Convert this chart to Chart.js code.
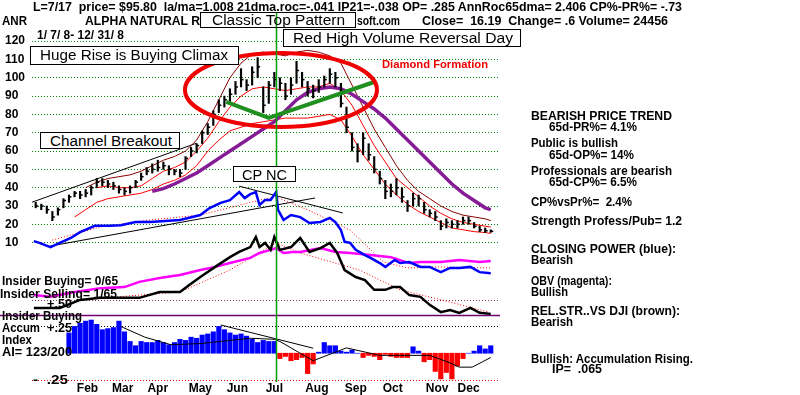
<!DOCTYPE html>
<html>
<head>
<meta charset="utf-8">
<script src="https://cdn.jsdelivr.net/npm/chart.js@4.4.0/dist/chart.umd.min.js"></script>
<style>
  body { margin: 0; background: #fff; }
  #wrap { position: relative; width: 800px; height: 395px; overflow: hidden; font-family: "Liberation Sans", Arial, sans-serif; }
  canvas { position: absolute; left: 0; top: 0; }
  .t { position: absolute; white-space: nowrap; font-weight: bold; font-size: 12px; line-height: 12px; color: #000; transform-origin: 0 0; }
  .n { font-weight: normal; font-size: 14px; line-height: 14px; }
  .box { position: absolute; border: 1px solid #000; background: #fff; box-sizing: border-box; }
</style>
</head>
<body>
<div id="wrap">
  <canvas id="chart" width="800" height="395"></canvas>

  <div class="t" style="left:33px;top:1px" data-w="649">L=7/17&nbsp; price= $95.80&nbsp; la/ma=1.008 21dma.roc=-.041 IP21=-.038 OP= .285 AnnRoc65dma= 2.406 CP%-PR%= -.73</div>
  <div class="t" style="left:2px;top:15px" data-w="25">ANR</div>
  <div class="t" style="left:85px;top:15px" data-w="115">ALPHA NATURAL R</div>
  <div class="t" style="left:357px;top:15px" data-w="43">soft.com</div>
  <div class="t" style="left:422px;top:15px" data-w="246">Close=&nbsp; 16.19&nbsp; Change= .6 Volume= 24456</div>
  <div class="t" style="left:37px;top:29px" data-w="87">1/ 7/ 8- 12/ 31/ 8</div>

  <div class="box" style="left:200px;top:12px;width:156px;height:16px;background:transparent"></div>
  <div class="t n" style="left:212px;top:13px" data-w="133">Classic Top Pattern</div>
  <div class="box" style="left:283px;top:29px;width:238px;height:18px"></div>
  <div class="t n" style="left:293px;top:31px" data-w="220">Red High Volume Reversal Day</div>
  <div class="box" style="left:30px;top:46px;width:209px;height:19px"></div>
  <div class="t n" style="left:40px;top:48px" data-w="188">Huge Rise is Buying Climax</div>
  <div class="box" style="left:40px;top:132px;width:140px;height:17px"></div>
  <div class="t n" style="left:50px;top:134px" data-w="122">Channel Breakout</div>
  <div class="box" style="left:233px;top:166px;width:63px;height:16px"></div>
  <div class="t n" style="left:242px;top:168px" data-w="45">CP NC</div>
  <div class="t" style="left:382px;top:59px;color:#f00000;font-size:11px;line-height:11px" data-w="106">Diamond Formation</div>

  <div class="t" style="left:531px;top:110px" data-w="141">BEARISH PRICE TREND</div>
  <div class="t" style="left:549px;top:121px" data-w="88">65d-PR%= 4.1%</div>
  <div class="t" style="left:531px;top:137px" data-w="87">Public is bullish</div>
  <div class="t" style="left:549px;top:149px" data-w="85">65d-OP%= 14%</div>
  <div class="t" style="left:531px;top:165px" data-w="141">Professionals are bearish</div>
  <div class="t" style="left:549px;top:176px" data-w="88">65d-CP%= 6.5%</div>
  <div class="t" style="left:531px;top:196px" data-w="101">CP%vsPr%=&nbsp; 2.4%</div>
  <div class="t" style="left:531px;top:215px" data-w="151">Strength Profess/Pub= 1.2</div>
  <div class="t" style="left:531px;top:243px" data-w="145">CLOSING POWER (blue):</div>
  <div class="t" style="left:531px;top:254px" data-w="42">Bearish</div>
  <div class="t" style="left:531px;top:275px" data-w="81">OBV (magenta):</div>
  <div class="t" style="left:531px;top:286px" data-w="37">Bullish</div>
  <div class="t" style="left:531px;top:305px" data-w="149">REL.STR..VS DJI (brown):</div>
  <div class="t" style="left:531px;top:316px" data-w="42">Bearish</div>
  <div class="t" style="left:531px;top:353px" data-w="162">Bullish: Accumulation Rising.</div>
  <div class="t" style="left:552px;top:363px" data-w="50">IP=&nbsp; .065</div>

  <div class="t" style="left:47px;top:298px" data-w="25">+.50</div>
  <div class="t" style="left:2px;top:275px" data-w="116">Insider Buying= 0/65</div>
  <div class="t" style="left:0px;top:288px" data-w="117">Insider Selling= 1/65</div>
  <div class="t" style="left:2px;top:310px" data-w="80">Insider Buying</div>
  <div class="t" style="left:2px;top:322px" data-w="38">Accum</div>
  <div class="t" style="left:47px;top:322px" data-w="25">+.25</div>
  <div class="t" style="left:2px;top:334px" data-w="30">Index</div>
  <div class="t" style="left:2px;top:346px" data-w="70">AI= 123/200</div>
  <div class="t" style="left:33px;top:374px" data-w="35">-&nbsp; .25</div>
</div>

<script>
// x is the trading-day index counted from 1/7/08
const monthDays = [31, 50, 69, 92, 112, 132, 155, 176, 196, 220, 237];
const monthLabels = ['Feb', 'Mar', 'Apr', 'May', 'Jun', 'Jul', 'Aug', 'Sep', 'Oct', 'Nov', 'Dec'];
const priceTicks = [10, 20, 30, 40, 50, 60, 70, 80, 90, 100, 110, 120];
const markDay = 133; // L=7/17

const priceDays = [3,6,9,12,15,18,21,24,27,30,33,36,39,42,45,48,51,54,57,60,63,66,69,72,75,78,81,84,87,90,
  93,96,99,102,105,108,111,114,117,120,123,126,129,132,135,138,141,144,147,150,153,156,159,162,165,168,171,174,177,180,
  183,186,189,192,195,198,201,204,207,210,213,216,219,222,225,228,231,234,237,240,243,246,249];
const priceHigh = [32,31,30,27,29,34,36,38,38,39, 41,45,45,44,43,41,40,41,44,48,
  51,53,55,54,52,50,50,57,62,64, 71,75,82,88,90,94,98,105,99,106,
  111,95,98,103,100,97,100,109,103,98, 96,99,101,105,103,97,84,70,64,70,
  64,57,49,44,42,45,40,33,37,36, 32,28,27,22,23,22,22,24,24,21, 19,18,17];
const priceLow = [29,28,26,22,25,29,32,35,34,35, 36,40,41,40,39,37,36,37,40,44,
  47,48,49,50,47,47,46,50,57,59, 64,69,74,81,84,87,91,95,93,96,
  100,81,86,95,93,88,91,97,95,90, 89,92,95,97,95,84,70,60,54,58,
  55,48,42,34,35,36,32,27,30,30, 26,24,22,17,18,18,18,20,20,18, 16,15.5,15.6];
const priceClose = [30,30,28,24,28,33,35,37,36,37, 40,43,43,42,41,39,38,40,43,46,
  49,50,51,52,50,49,48,56,60,63, 70,73,80,85,88,91,95,99,96,103,
  106,85,96,99,97,90,96,104,99,94, 93,95,99,102,100,86,73,62,60,67,
  58,50,45,38,38,40,35,30,34,34, 28,26,24,19,21,20,20,22,22,19, 17,16.5,16.19];

const maDays = [0,6,12,18,24,30,36,42,48,54,60,66,72,78,84,90,96,102,108,114,120,126,132,138,144,150,
  156,162,168,174,180,186,192,198,204,210,216,222,228,234,240,246,249];
const ma21 = [null,null,null,null,null,null,40,41,40,40,41,45,49,51,54,60,67,76,84,90,94,95,94,93,94,95,
  95,97,93,85,74,63,54,45,40,35,30,26,23,21,20,19,18.5];
const upperBand = [null,null,null,null,null,40,43,45,46,47,49,52,55,57,60,66,76,88,100,108,113,114,113,112,114,115,
  114,112,108,96,84,72,62,52,44,38,34,30,27,25,24,23,22];
const lowerBand = [null,null,null,null,24,28,32,34,35,36,37,39,42,44,47,52,60,66,71,73,75,76,77,78,78,78,
  79,80,77,68,58,50,42,36,31,27,24,21,18,17,16,15.5,15];
const ma65 = [null,null,null,null,null,null,null,null,null,null,null,38,39.5,42,45,48,52,56,60,64,68,72,76,82,88,92,
  94,95,94,91,87,83,78,72,66,60,54,48,42,37,33,29,28];

const channelDays = [0, 90];
const channelValues = [31.7, 64.3];
const diamondDays = [106, 129, 186];
const diamondValues = [86.8, 78.1, 97.7];
const ellipseCenter = [135.6, 93.4];   // day, price
const ellipseRadius = [51.9, 20.2];    // days, price

// indicator panel (relative units)
const cpDays = [2,5,11,16,22,27,35,43,49,57,65,73,81,86,92,97,103,108,113,116,119,122,124,127,130,133,134,137,141,146,
  151,157,162,165,168,170,173,176,181,184,189,192,197,200,205,211,216,222,227,232,238,243,249];
const cpValues = [39.9,39.4,38.2,39.4,40.8,42.5,44.3,44.3,44.5,45.4,45.4,45.7,46,46.6,47.4,49.4,50.9,51.7,54,52.3,
  53.4,54,50.3,51.7,51.7,54,48.9,46,47.4,46.8,45.1,45.4,46.6,45.4,43.1,39.7,39.4,37.4,35.9,35.1,
  33.6,32.5,34.5,33.6,33.9,32.5,32.5,31,32.2,32.2,32.5,31,30.7];
const obvDays = [2,11,24,38,51,59,70,81,92,100,108,119,124,130,133,137,142,146,157,165,173,184,195,205,211,222,232,243,249];
const obvValues = [24.4,23.9,25.3,26.4,26.7,28.2,29.3,30.2,31.6,32.5,33.6,35.1,36.5,37.4,37.9,36.5,36.8,36.8,37.9,36.8,
  36.5,35.9,35.3,33.6,33.9,33.9,34.5,33.9,34.2];
const rsDays = [2,16,27,38,49,59,70,81,86,92,100,108,113,119,122,124,127,130,132,135,141,146,151,157,162,166,170,176,
  181,186,192,196,200,205,211,216,222,227,232,238,243,249];
const rsValues = [20.7,20.7,23,23.6,23.6,23.6,25.3,25.3,27.3,29.6,32.5,35.3,36.8,38.2,41.1,38.2,39.4,37.4,41.1,37.4,
  38.2,40.8,36.8,37.9,39.4,36.5,31.6,29.6,28.7,25.9,25.9,26.7,26.7,24.4,23.9,21.6,19.5,20.1,19.3,20.7,19.3,19];
const cpMaDays = [12,38,65,92,124,133,150,173,191,204,220,249];
const cpMaValues = [40.2,44,46,47.4,51.7,52.6,48.9,43.1,33.9,32.2,32.5,32.2];
const rsMaDays = [47,81,108,133,146,178,200,227,248];
const rsMaValues = [23.9,25.3,31.6,39.4,36.5,31.6,25.9,22.4,19.5];
const cpUpDays = [11, 154];
const cpUpValues = [38.5, 52.3];
const cpDownDays = [113, 169];
const cpDownValues = [55.7, 48];
const insiderLevel = 18.7;

// accumulation index
const aiDays = [21,24,27,30,33,36,39,42,45,48,51,54,57,60,63,66,69,72,75,78,81,84,87,90,93,96,99,102,105,108,
  111,114,117,120,123,126,129,132,135,138,141,144,147,150,153,156,159,162,165,168,171,174,177,180,183,186,189,192,195,198,
  201,204,207,210,213,216,219,222,225,228,231,234,237,240,243,246,249];
const aiValues = [.19,.25,.28,.30,.31,.27,.22,.23,.24,.30, .20,.11,.07,.11,.10,.10,.12,.10,.08,.10,
  .13,.12,.15,.14,.17,.18,.20,.25,.22,.19, .17,.18,.16,.13,.10,.12,.11,.11,-.05,-.03,
  -.07,-.06,-.04,-.19,-.10,.01,.10,.07,.07,.02, .01,.03,0,-.04,-.02,-.03,-.06,-.01,-.03,-.04,
  -.04,-.04,.06,.02,-.08,-.06,-.17,-.24,-.18,-.24, -.12,-.05,0,.02,.07,.04,.07];
const aiMaDays = [49,62,76,92,108,119,132,135,153,171,189,216,227,232,239,249];
const aiMaValues = [.25,.15,.08,.09,.12,.14,.13,.11,-.07,.05,-.02,-.02,-.09,-.13,-.13,-.04];
const aiTrendDays = [103, 153];
const aiTrendValues = [.264, .047];
const aiLevels = [0.5, 0.25, -0.25];
const aiLevelColors = ['#803050', '#000000', '#e00000'];

const FONT = '"Liberation Sans", Arial, sans-serif';

function pts(days, vals) {
  return days.map((d, i) => ({ x: d, y: vals[i] }));
}
function line(days, vals, axis, color, width, extra) {
  return Object.assign({
    type: 'line', yAxisID: axis, data: pts(days, vals),
    borderColor: color, borderWidth: width, pointRadius: 0, tension: 0, fill: false
  }, extra || {});
}

const extras = {
  id: 'extras',
  beforeDatasetsDraw(chart) {
    const { ctx, chartArea, scales } = chart;
    ctx.save();
    ctx.lineWidth = 1;
    aiLevels.forEach((lv, i) => {
      const y = Math.round(scales.ya.getPixelForValue(lv)) + 0.5;
      ctx.strokeStyle = aiLevelColors[i];
      ctx.setLineDash([1, 2]);
      ctx.beginPath();
      ctx.moveTo(chartArea.left, y);
      ctx.lineTo(chartArea.right, y);
      ctx.stroke();
    });
    ctx.setLineDash([]);
    const yi = Math.round(scales.yi.getPixelForValue(insiderLevel)) + 0.5;
    ctx.strokeStyle = '#700070';
    ctx.lineWidth = 1.5;
    ctx.beginPath();
    ctx.moveTo(0, yi);
    ctx.lineTo(chartArea.right, yi);
    ctx.stroke();
    ctx.restore();
  },
  afterDatasetsDraw(chart) {
    const { ctx, scales } = chart;
    const x = scales.x, y = scales.y;
    ctx.save();
    const cx = x.getPixelForValue(ellipseCenter[0]);
    const cy = y.getPixelForValue(ellipseCenter[1]);
    const rx = x.getPixelForValue(ellipseCenter[0] + ellipseRadius[0]) - cx;
    const ry = cy - y.getPixelForValue(ellipseCenter[1] + ellipseRadius[1]);
    ctx.strokeStyle = '#f00000';
    ctx.lineWidth = 4;
    ctx.beginPath();
    ctx.ellipse(cx, cy, rx, ry, 0, 0, Math.PI * 2);
    ctx.stroke();

    const mx = Math.round(x.getPixelForValue(markDay)) + 0.5;
    ctx.strokeStyle = '#00a000';
    ctx.lineWidth = 1.5;
    ctx.beginPath();
    ctx.moveTo(mx, 12);
    ctx.lineTo(mx, 382);
    ctx.stroke();
    ctx.restore();
  }
};

new Chart(document.getElementById('chart'), {
  type: 'bar',
  data: {
    datasets: [
      line(diamondDays, diamondValues, 'y', '#1f8f1f', 4, { order: 0 }),
      { type: 'bar', yAxisID: 'y', data: priceDays.map((d, i) => ({ x: d, y: [priceLow[i], priceHigh[i]] })),
        backgroundColor: '#000', barThickness: 1.5, grouped: false, order: 3 },
      line(priceDays, priceClose, 'y', '#000', 1.5, { showLine: false, pointStyle: 'dash', pointRadius: 2.5, order: 2 }),
      line(maDays, ma21, 'y', '#ff0000', 1, { order: 5 }),
      line(maDays, upperBand, 'y', '#8b0000', 1, { order: 5 }),
      line(maDays, lowerBand, 'y', '#ff0000', 1, { order: 5 }),
      line(maDays, ma65, 'y', '#851c95', 3.5, { order: 4 }),
      line(channelDays, channelValues, 'y', '#000', 1, { order: 5 }),

      line(cpDays, cpValues, 'yi', '#0000ff', 2.5, { order: 2 }),
      line(obvDays, obvValues, 'yi', '#ff00ff', 2.5, { order: 3 }),
      line(rsDays, rsValues, 'yi', '#000', 2.5, { order: 2 }),
      line(cpMaDays, cpMaValues, 'yi', '#ff0000', 1, { borderDash: [1, 2], order: 6 }),
      line(rsMaDays, rsMaValues, 'yi', '#ff0000', 1, { borderDash: [1, 2], order: 6 }),
      line(cpUpDays, cpUpValues, 'yi', '#000', 1, { order: 6 }),
      line(cpDownDays, cpDownValues, 'yi', '#000', 1, { order: 6 }),

      { type: 'bar', yAxisID: 'ya', data: pts(aiDays, aiValues),
        backgroundColor: aiValues.map(v => v >= 0 ? '#0000ff' : '#ff0000'),
        barThickness: 4.5, grouped: false, order: 7 },
      line(aiMaDays, aiMaValues, 'ya', '#000', 1, { order: 6 }),
      line(aiTrendDays, aiTrendValues, 'ya', '#000', 1, { order: 6 })
    ]
  },
  options: {
    responsive: false,
    animation: false,
    layout: { padding: { left: 5, right: 300, top: 32, bottom: 0 } },
    plugins: { legend: { display: false }, tooltip: { enabled: false } },
    scales: {
      x: {
        type: 'linear', min: 1, max: 254, offset: false,
        grid: { display: false, drawTicks: false }, border: { display: false },
        afterBuildTicks: s => { s.ticks = monthDays.map(v => ({ value: v })); },
        afterFit: s => { s.height = 15; },
        ticks: { autoSkip: false, maxRotation: 0, padding: 1, color: '#000',
          font: { family: FONT, size: 12, weight: 'bold' },
          callback: (v, i) => monthLabels[i] }
      },
      y: {
        position: 'left', min: -65, max: 125,
        afterBuildTicks: s => { s.ticks = priceTicks.map(v => ({ value: v })); },
        afterFit: s => { s.width = 27; },
        grid: { color: '#008000', drawTicks: false, lineWidth: 1 },
        border: { display: false, dash: [1, 2] },
        ticks: { crossAlign: 'far', padding: 0, color: '#000',
          font: { family: FONT, size: 12, weight: 'bold' } }
      },
      yi: { display: false, min: 0, max: 100 },
      ya: { display: false, min: -0.25, max: 3.0 }
    }
  },
  plugins: [extras]
});

document.querySelectorAll('[data-w]').forEach(el => {
  const w = el.getBoundingClientRect().width;
  if (w > 0) el.style.transform = 'scaleX(' + (el.dataset.w / w) + ')';
});
</script>
</body>
</html>
